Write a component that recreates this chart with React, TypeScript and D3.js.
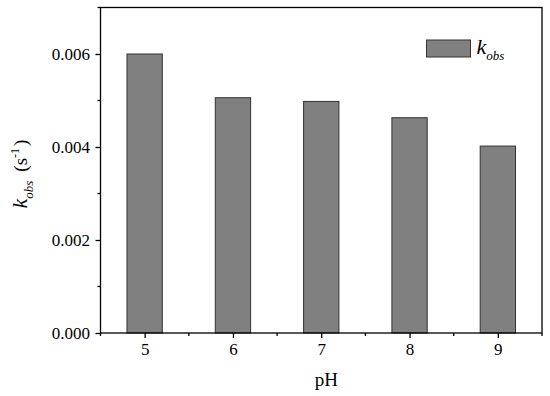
import React, { useEffect, useRef } from 'react';
import * as d3 from 'd3';

const phValues = [5, 6, 7, 8, 9];
const kobs = [0.006, 0.00506, 0.00498, 0.00463, 0.00402];
const yTicks = [0, 0.002, 0.004, 0.006];
const yMinor = [0.001, 0.003, 0.005, 0.007];
const xMinor = [4.5, 5.5, 6.5, 7.5, 8.5, 9.5];

export default function App() {
  const svgRef = useRef<SVGSVGElement>(null);

  const W = 550, H = 396;
  const margin = { top: 7.5, right: 8, left: 100.5, bottom: 63 };
  const width = W - margin.left - margin.right;
  const height = H - margin.top - margin.bottom;
  const font = "'Times New Roman', 'Liberation Serif', Times, serif";

  useEffect(() => {
    const svg = d3.select(svgRef.current);
    svg.selectAll('*').remove();

    const x = d3.scaleLinear().domain([4.5, 9.5]).range([0, width]);
    const y = d3.scaleLinear().domain([0, 0.007]).range([height, 0]);
    const barW = x(5.4) - x(5);

    const g = svg.append('g').attr('transform', `translate(${margin.left},${margin.top})`);

    // bars
    g.selectAll('rect.bar')
      .data(phValues)
      .join('rect')
      .attr('class', 'bar')
      .attr('x', (d) => x(d) - barW / 2)
      .attr('y', (d, i) => y(kobs[i]))
      .attr('width', barW)
      .attr('height', (d, i) => height - y(kobs[i]))
      .attr('fill', '#808080')
      .attr('stroke', '#333')
      .attr('stroke-width', 1);

    // frame
    g.append('rect')
      .attr('width', width)
      .attr('height', height)
      .attr('fill', 'none')
      .attr('stroke', '#000')
      .attr('stroke-width', 1.3);

    // y axis
    const yaxis = d3.axisLeft(y)
      .tickValues(yTicks)
      .tickSize(5)
      .tickFormat(d3.format('.3f'));
    g.append('g')
      .call(yaxis)
      .call((a) => a.select('.domain').remove())
      .call((a) => a.selectAll('line').attr('stroke-width', 1.3))
      .call((a) => a.selectAll('text').attr('fill', '#000').attr('dx', -2.5)
        .style('font-family', font).style('font-size', '17px'));
    g.append('g')
      .selectAll('line')
      .data(yMinor)
      .join('line')
      .attr('x1', -3)
      .attr('x2', 0)
      .attr('y1', (d) => y(d))
      .attr('y2', (d) => y(d))
      .attr('stroke', '#000')
      .attr('stroke-width', 1.3);

    // x axis
    const xaxis = d3.axisBottom(x).tickValues(phValues).tickSize(5).tickFormat(d3.format('d'));
    g.append('g')
      .attr('transform', `translate(0,${height})`)
      .call(xaxis)
      .call((a) => a.select('.domain').remove())
      .call((a) => a.selectAll('line').attr('stroke-width', 1.3))
      .call((a) => a.selectAll('text').attr('fill', '#000').attr('dy', '0.85em')
        .style('font-family', font).style('font-size', '17px'));
    g.append('g')
      .selectAll('line')
      .data(xMinor)
      .join('line')
      .attr('x1', (d) => x(d))
      .attr('x2', (d) => x(d))
      .attr('y1', height)
      .attr('y2', height + 3)
      .attr('stroke', '#000')
      .attr('stroke-width', 1.3);

    // x label
    svg.append('text')
      .attr('x', margin.left + width / 2 + 5)
      .attr('y', 386)
      .attr('text-anchor', 'middle')
      .style('font-family', font)
      .style('font-size', '19px')
      .attr('fill', '#000')
      .text('pH');

    // y label
    const yl = svg.append('text')
      .attr('transform', 'translate(27,174) rotate(-90)')
      .attr('text-anchor', 'middle')
      .style('font-family', font)
      .attr('fill', '#000');
    yl.append('tspan').attr('font-style', 'italic').style('font-size', '22px').text('k');
    yl.append('tspan').attr('font-style', 'italic').style('font-size', '13px').attr('dy', 6).text('obs');
    yl.append('tspan').style('font-size', '19px').attr('dy', -6).attr('dx', 9).text('(s');
    yl.append('tspan').style('font-size', '12px').attr('dy', -8).text('-1');
    yl.append('tspan').style('font-size', '19px').attr('dy', 8).attr('dx', 2).text(')');

    // legend
    const lg = svg.append('g').attr('transform', 'translate(426.5,40)');
    lg.append('rect')
      .attr('width', 44)
      .attr('height', 17)
      .attr('fill', '#808080')
      .attr('stroke', '#333')
      .attr('stroke-width', 1);
    const lt = lg.append('text')
      .attr('x', 50)
      .attr('y', 14)
      .style('font-family', font)
      .attr('font-style', 'italic')
      .attr('fill', '#000');
    lt.append('tspan').style('font-size', '22px').text('k');
    lt.append('tspan').style('font-size', '13px').attr('dy', 6).text('obs');
  });

  return (
    <svg
      ref={svgRef}
      width={W}
      height={H}
      style={{ position: 'absolute', left: 0, top: 0, background: '#fff' }}
    ></svg>
  );
}
